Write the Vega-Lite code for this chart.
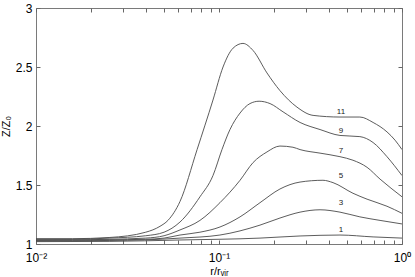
{
  "$schema": "https://vega.github.io/schema/vega-lite/v6.json",
  "width": 366,
  "height": 236,
  "autosize": {"type": "none"},
  "padding": {"left": 36, "top": 8, "right": 13, "bottom": 33},
  "background": "white",
  "config": {
    "view": {"stroke": "#7a7a7a", "strokeWidth": 1},
    "font": "Liberation Sans",
    "axis": {
      "domain": false,
      "grid": false,
      "tickColor": "#666666",
      "tickWidth": 1,
      "tickSize": -4,
      "labelColor": "#000",
      "labelFont": "Liberation Sans",
      "labelFontSize": 11,
      "titleFont": "Liberation Sans",
      "titleFontSize": 11,
      "titleFontWeight": "normal",
      "titleColor": "#000"
    }
  },
  "datasets": {
    "curves": [
      {"n": 11, "r": 0.01, "z": 1.045}, {"n": 11, "r": 0.0158, "z": 1.045}, {"n": 11, "r": 0.0251, "z": 1.055}, {"n": 11, "r": 0.0398, "z": 1.1}, {"n": 11, "r": 0.0476, "z": 1.15}, {"n": 11, "r": 0.0526, "z": 1.2}, {"n": 11, "r": 0.0612, "z": 1.36}, {"n": 11, "r": 0.0759, "z": 1.8}, {"n": 11, "r": 0.0927, "z": 2.22}, {"n": 11, "r": 0.1052, "z": 2.5}, {"n": 11, "r": 0.1194, "z": 2.66}, {"n": 11, "r": 0.1352, "z": 2.7}, {"n": 11, "r": 0.1535, "z": 2.64}, {"n": 11, "r": 0.1828, "z": 2.45}, {"n": 11, "r": 0.2153, "z": 2.3}, {"n": 11, "r": 0.2667, "z": 2.16}, {"n": 11, "r": 0.3266, "z": 2.09}, {"n": 11, "r": 0.4581, "z": 2.076}, {"n": 11, "r": 0.5888, "z": 2.076}, {"n": 11, "r": 0.695, "z": 2.03}, {"n": 11, "r": 0.8279, "z": 1.95}, {"n": 11, "r": 0.9162, "z": 1.88}, {"n": 11, "r": 1, "z": 1.8},
      {"n": 9, "r": 0.01, "z": 1.04}, {"n": 9, "r": 0.0158, "z": 1.04}, {"n": 9, "r": 0.0251, "z": 1.05}, {"n": 9, "r": 0.0398, "z": 1.07}, {"n": 9, "r": 0.0501, "z": 1.1}, {"n": 9, "r": 0.0612, "z": 1.186}, {"n": 9, "r": 0.0787, "z": 1.4}, {"n": 9, "r": 0.0927, "z": 1.58}, {"n": 9, "r": 0.1038, "z": 1.8}, {"n": 9, "r": 0.1148, "z": 1.97}, {"n": 9, "r": 0.1303, "z": 2.11}, {"n": 9, "r": 0.1476, "z": 2.19}, {"n": 9, "r": 0.1656, "z": 2.21}, {"n": 9, "r": 0.1901, "z": 2.19}, {"n": 9, "r": 0.2239, "z": 2.12}, {"n": 9, "r": 0.2773, "z": 2.03}, {"n": 9, "r": 0.3565, "z": 1.97}, {"n": 9, "r": 0.4581, "z": 1.92}, {"n": 9, "r": 0.5888, "z": 1.91}, {"n": 9, "r": 0.695, "z": 1.86}, {"n": 9, "r": 0.8279, "z": 1.74}, {"n": 9, "r": 1, "z": 1.58},
      {"n": 7, "r": 0.01, "z": 1.035}, {"n": 7, "r": 0.0158, "z": 1.035}, {"n": 7, "r": 0.0251, "z": 1.04}, {"n": 7, "r": 0.0398, "z": 1.05}, {"n": 7, "r": 0.0501, "z": 1.07}, {"n": 7, "r": 0.0612, "z": 1.119}, {"n": 7, "r": 0.0787, "z": 1.2}, {"n": 7, "r": 0.1012, "z": 1.35}, {"n": 7, "r": 0.1303, "z": 1.54}, {"n": 7, "r": 0.1535, "z": 1.69}, {"n": 7, "r": 0.1828, "z": 1.78}, {"n": 7, "r": 0.2153, "z": 1.83}, {"n": 7, "r": 0.2535, "z": 1.82}, {"n": 7, "r": 0.2773, "z": 1.8}, {"n": 7, "r": 0.3565, "z": 1.77}, {"n": 7, "r": 0.4581, "z": 1.74}, {"n": 7, "r": 0.5395, "z": 1.71}, {"n": 7, "r": 0.6442, "z": 1.65}, {"n": 7, "r": 0.7586, "z": 1.55}, {"n": 7, "r": 1, "z": 1.4},
      {"n": 5, "r": 0.01, "z": 1.03}, {"n": 5, "r": 0.0251, "z": 1.035}, {"n": 5, "r": 0.0398, "z": 1.04}, {"n": 5, "r": 0.0501, "z": 1.05}, {"n": 5, "r": 0.0612, "z": 1.076}, {"n": 5, "r": 0.0787, "z": 1.1}, {"n": 5, "r": 0.1012, "z": 1.144}, {"n": 5, "r": 0.1303, "z": 1.23}, {"n": 5, "r": 0.1675, "z": 1.35}, {"n": 5, "r": 0.2153, "z": 1.466}, {"n": 5, "r": 0.2773, "z": 1.525}, {"n": 5, "r": 0.3698, "z": 1.54}, {"n": 5, "r": 0.4198, "z": 1.52}, {"n": 5, "r": 0.5395, "z": 1.43}, {"n": 5, "r": 0.6442, "z": 1.38}, {"n": 5, "r": 0.8279, "z": 1.32}, {"n": 5, "r": 1, "z": 1.26},
      {"n": 3, "r": 0.01, "z": 1.025}, {"n": 3, "r": 0.0251, "z": 1.03}, {"n": 3, "r": 0.0398, "z": 1.035}, {"n": 3, "r": 0.0612, "z": 1.05}, {"n": 3, "r": 0.1012, "z": 1.076}, {"n": 3, "r": 0.1675, "z": 1.16}, {"n": 3, "r": 0.2153, "z": 1.22}, {"n": 3, "r": 0.2773, "z": 1.27}, {"n": 3, "r": 0.3565, "z": 1.29}, {"n": 3, "r": 0.4581, "z": 1.27}, {"n": 3, "r": 0.5888, "z": 1.23}, {"n": 3, "r": 0.7586, "z": 1.2}, {"n": 3, "r": 1, "z": 1.17},
      {"n": 1, "r": 0.01, "z": 1.02}, {"n": 1, "r": 0.0251, "z": 1.022}, {"n": 1, "r": 0.0612, "z": 1.034}, {"n": 1, "r": 0.1675, "z": 1.05}, {"n": 1, "r": 0.2773, "z": 1.068}, {"n": 1, "r": 0.4581, "z": 1.076}, {"n": 1, "r": 0.695, "z": 1.06}, {"n": 1, "r": 1, "z": 1.05}
    ],
    "labels": [
      {"label": "11", "r": 0.464, "z": 2.12},
      {"label": "9", "r": 0.464, "z": 1.96},
      {"label": "7", "r": 0.464, "z": 1.79},
      {"label": "5", "r": 0.464, "z": 1.58},
      {"label": "3", "r": 0.464, "z": 1.35},
      {"label": "1", "r": 0.464, "z": 1.12}
    ]
  },
  "resolve": {"axis": {"x": "independent", "y": "independent"}},
  "layer": [
    {
      "data": {"name": "curves"},
      "mark": {"type": "line", "interpolate": "monotone", "color": "#4a4a4a", "strokeWidth": 0.9, "clip": true},
      "encoding": {
        "x": {
          "field": "r", "type": "quantitative",
          "scale": {"type": "log", "domain": [0.01, 1], "nice": false},
          "axis": {
            "orient": "bottom",
            "title": "r/rᵥᵢᵣ",
            "titlePadding": 2,
            "values": [0.01, 0.02, 0.03, 0.04, 0.05, 0.06, 0.07, 0.08, 0.09, 0.1, 0.2, 0.3, 0.4, 0.5, 0.6, 0.7, 0.8, 0.9, 1],
            "labelExpr": "datum.value == 0.01 ? '10⁻²' : datum.value == 0.1 ? '10⁻¹' : datum.value == 1 ? '10⁰' : ''",
            "labelPadding": 12,
            "labelFontSize": 12,
            "labelFlush": false,
            "labelOverlap": false
          }
        },
        "y": {
          "field": "z", "type": "quantitative",
          "scale": {"domain": [1, 3], "nice": false, "zero": false},
          "axis": {
            "orient": "left",
            "title": "Z/Z₀",
            "titlePadding": 4,
            "values": [1, 1.5, 2, 2.5, 3],
            "labelExpr": "format(datum.value, '~g')",
            "labelPadding": 8,
            "labelFontSize": 12,
            "labelFlush": false
          }
        },
        "detail": {"field": "n", "type": "nominal"}
      }
    },
    {
      "data": {"name": "labels"},
      "mark": {"type": "text", "fontSize": 8, "color": "#222", "font": "Liberation Sans"},
      "encoding": {
        "x": {
          "field": "r", "type": "quantitative",
          "scale": {"type": "log", "domain": [0.01, 1], "nice": false},
          "axis": {
            "orient": "top", "title": null, "labels": false,
            "values": [0.01, 0.02, 0.03, 0.04, 0.05, 0.06, 0.07, 0.08, 0.09, 0.1, 0.2, 0.3, 0.4, 0.5, 0.6, 0.7, 0.8, 0.9, 1]
          }
        },
        "y": {
          "field": "z", "type": "quantitative",
          "scale": {"domain": [1, 3], "nice": false, "zero": false},
          "axis": {"orient": "right", "title": null, "labels": false, "values": [1, 1.5, 2, 2.5, 3]}
        },
        "text": {"field": "label", "type": "nominal"}
      }
    }
  ]
}
